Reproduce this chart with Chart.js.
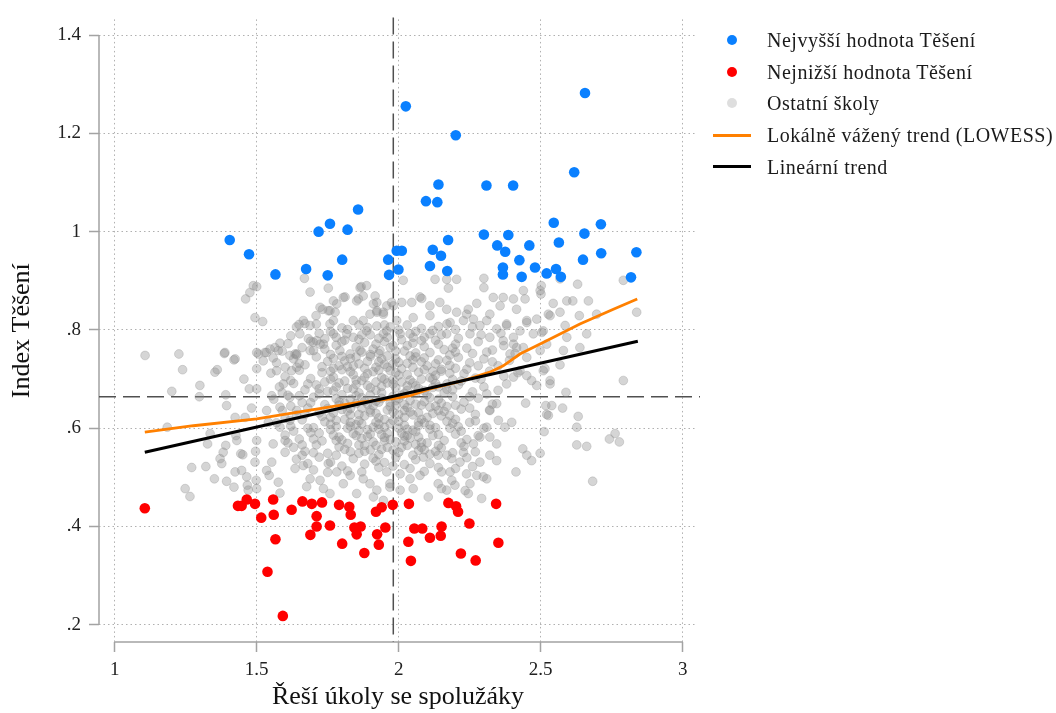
<!DOCTYPE html>
<html>
<head>
<meta charset="utf-8">
<script src="https://cdn.jsdelivr.net/npm/chart.js@4.4.1/dist/chart.umd.min.js"></script>
<style>
  html, body { margin: 0; padding: 0; background: #ffffff; }
  #wrap { position: relative; width: 1056px; height: 713px; overflow: hidden; }
  #chart { position: absolute; left: 0; top: 0; }
  .lg { position: absolute; left: 767px; height: 32px; line-height: 32px; font-family: "Liberation Serif", "Times New Roman", serif; font-size: 20px; letter-spacing: 0.5px; color: #1a1a1a; white-space: nowrap; }
  .dot { position: absolute; width: 10px; height: 10px; border-radius: 50%; }
  .ln { position: absolute; left: 713px; width: 38px; }
</style>
</head>
<body>
<div id="wrap">
  <canvas id="chart" width="1056" height="713"></canvas>
  <div class="dot" style="left:727px;top:35px;background:#0a80ff"></div>
  <div class="lg" style="top:24px">Nejvyšší hodnota Těšení</div>
  <div class="dot" style="left:727px;top:67px;background:#ff0000"></div>
  <div class="lg" style="top:56px">Nejnižší hodnota Těšení</div>
  <div class="dot" style="left:727px;top:98px;background:#dedede"></div>
  <div class="lg" style="top:87px">Ostatní školy</div>
  <div class="ln" style="top:134px;height:3px;background:#ff8000"></div>
  <div class="lg" style="top:119px">Lokálně vážený trend (LOWESS)</div>
  <div class="ln" style="top:165px;height:3px;background:#000000"></div>
  <div class="lg" style="top:151px">Lineární trend</div>
</div>
<script>
// ---- data ----
const xTickValues = [1, 1.5, 2, 2.5, 3];
const xTickLabels = ['1', '1.5', '2', '2.5', '3'];
const yTickValues = [0.2, 0.4, 0.6, 0.8, 1.0, 1.2, 1.4];
const yTickLabels = ['.2', '.4', '.6', '.8', '1', '1.2', '1.4'];

const meanX = 1.981;   // vertical dashed reference
const meanY = 0.664;   // horizontal dashed reference

const highest = [
  [1.405,0.983],[1.473,0.954],[1.566,0.913],[1.674,0.924],[1.718,1.000],[1.758,1.016],[1.750,0.911],
  [1.801,0.943],[1.820,1.004],[1.857,1.045],[1.963,0.943],[1.993,0.961],[2.011,0.961],[1.966,0.912],
  [1.999,0.923],[2.025,1.255],[2.201,1.196],[2.140,1.096],[2.096,1.062],[2.136,1.060],[2.309,1.094],
  [2.403,1.094],[2.618,1.121],[2.656,1.282],[2.174,0.983],[2.120,0.963],[2.149,0.951],[2.110,0.930],
  [2.171,0.920],[2.300,0.994],[2.347,0.972],[2.386,0.993],[2.375,0.959],[2.367,0.927],[2.367,0.913],
  [2.425,0.942],[2.433,0.908],[2.460,0.972],[2.480,0.927],[2.521,0.915],[2.554,0.924],[2.571,0.908],
  [2.546,1.018],[2.564,0.978],[2.654,0.996],[2.649,0.943],[2.712,1.015],[2.713,0.956],[2.837,0.958],
  [2.818,0.907]
];

const lowest = [
  [1.106,0.437],[1.434,0.442],[1.447,0.442],[1.465,0.455],[1.494,0.446],[1.516,0.418],[1.558,0.455],
  [1.560,0.424],[1.566,0.374],[1.538,0.308],[1.592,0.218],[1.623,0.434],[1.661,0.451],[1.694,0.446],
  [1.730,0.449],[1.711,0.421],[1.711,0.400],[1.689,0.383],[1.758,0.402],[1.790,0.444],[1.826,0.440],
  [1.831,0.424],[1.844,0.398],[1.866,0.400],[1.852,0.384],[1.801,0.365],[1.879,0.346],[1.920,0.430],
  [1.940,0.439],[1.979,0.444],[1.924,0.384],[1.953,0.398],[1.930,0.363],[2.036,0.446],[2.055,0.396],
  [2.083,0.396],[2.034,0.369],[2.043,0.330],[2.110,0.377],[2.148,0.381],[2.151,0.400],[2.175,0.448],
  [2.202,0.441],[2.209,0.430],[2.249,0.406],[2.219,0.345],[2.271,0.331],[2.343,0.446],[2.351,0.367]
];

const otherSchools = [
  // sparse left part
  [1.107,0.748],[1.226,0.751],[1.239,0.719],[1.201,0.675],[1.185,0.602],[1.300,0.687],[1.298,0.664],
  [1.353,0.714],[1.361,0.719],[1.386,0.752],[1.420,0.739],[1.391,0.668],[1.394,0.646],[1.455,0.700],
  [1.474,0.680],[1.482,0.641],[1.424,0.622],[1.459,0.622],[1.500,0.721],[1.500,0.754],[1.461,0.863],
  [1.476,0.876],[1.488,0.890],[1.500,0.888],[1.494,0.825],[1.521,0.817],[1.529,0.754],[1.547,0.761],
  [1.564,0.764],[1.523,0.737],[1.558,0.743],[1.582,0.773],[1.500,0.680],[1.553,0.666],[1.336,0.589],
  [1.327,0.568],[1.427,0.585],[1.430,0.575],[1.391,0.565],[1.382,0.551],[1.371,0.538],[1.377,0.528],
  [1.271,0.520],[1.321,0.522],[1.248,0.477],[1.265,0.461],[1.351,0.497],[1.394,0.492],[1.420,0.480],
  [1.424,0.511],[1.447,0.514],[1.444,0.548],[1.451,0.546],[1.465,0.501],[1.467,0.484],[1.470,0.474],
  [1.496,0.553],[1.500,0.575],[1.494,0.531],[1.498,0.494],[1.500,0.477],[1.535,0.514],[1.544,0.504],
  [1.558,0.568],[1.553,0.531],[1.576,0.490],[1.582,0.468],[1.600,0.575],[1.600,0.551],[1.388,0.754],
  [1.424,0.741],[1.506,0.751],[1.535,0.754],[1.576,0.758],[1.617,0.748],[1.635,0.751],
  [1.570,0.717],[1.594,0.690],[1.582,0.643],[1.535,0.636],[1.541,0.612],[1.582,0.602],[1.617,0.616],
  [1.641,0.636],[1.617,0.663],[1.623,0.717],[1.641,0.724],[1.641,0.751],[1.688,0.758],[1.711,0.778],
  [1.735,0.771],[1.664,0.819],[1.688,0.809],[1.723,0.846],[1.758,0.839],[1.782,0.853],[1.805,0.866],
  // upper band
  [1.668,0.905],[1.688,0.877],[1.752,0.885],[1.811,0.867],[1.770,0.859],[1.858,0.863],[1.868,0.888],
  [1.917,0.869],[1.923,0.856],[1.958,0.849],[1.975,0.856],[1.709,0.829],[1.732,0.842],[1.752,0.839],
  [1.776,0.836],[1.649,0.811],[1.670,0.813],[1.758,0.812],[1.770,0.819],[1.652,0.792],[1.682,0.782],
  [1.699,0.775],[1.723,0.771],[1.770,0.792],[1.817,0.792],[1.840,0.819],[1.875,0.819],[1.887,0.798],
  [1.923,0.808],[1.946,0.792],[1.899,0.832],[1.923,0.836],[1.946,0.832],[1.829,0.751],[1.793,0.758],
  [1.864,0.758],[1.934,0.758],[1.852,0.859],[1.875,0.869],[1.911,0.853],[1.923,0.839],[1.946,0.836],
  [1.864,0.886],[1.887,0.890],
  // upper right
  [2.016,0.901],[2.128,0.903],[2.169,0.903],[2.175,0.885],[2.204,0.903],[2.300,0.905],[2.300,0.886],
  [2.081,0.864],[2.439,0.880],[2.501,0.873],[2.498,0.880],[2.502,0.890],[2.630,0.893],[2.568,0.904],
  [2.791,0.901],[2.838,0.836],[2.544,0.854],[2.592,0.859],[2.613,0.859],[2.668,0.859],[2.636,0.829],
  [2.697,0.832],[2.662,0.792],[2.586,0.809],[2.533,0.829],[2.486,0.822],[2.504,0.795],[2.527,0.832],
  [2.568,0.836],[2.275,0.854],[2.333,0.866],[2.368,0.866],[2.404,0.863],[2.445,0.863],[2.321,0.832],
  [2.357,0.849],[2.415,0.842],[2.075,0.867],[2.046,0.856],[2.011,0.856],[1.981,0.849],[2.110,0.849],
  [2.145,0.856],[2.169,0.842],[2.204,0.836],[2.239,0.832],[2.245,0.842],[1.993,0.819],[2.051,0.825],
  [2.110,0.829],[2.181,0.815],[2.228,0.819],[2.263,0.822],[2.286,0.809],[2.310,0.819],[2.345,0.802],
  [2.380,0.809],[2.427,0.798],[2.451,0.815],[2.474,0.792],[2.509,0.798],[2.321,0.785],[2.368,0.778],
  [2.404,0.771],[2.251,0.792],[2.169,0.792],[2.110,0.792],[2.051,0.785],[2.005,0.792],[1.958,0.798],
  [2.439,0.764],[2.498,0.758],[2.451,0.744],[2.521,0.771],[2.592,0.785],[2.638,0.764],[2.580,0.758],
  [2.392,0.751],[2.415,0.764],[2.404,0.785],[2.380,0.812],[2.451,0.819],
  // right side sparse
  [2.791,0.697],[2.762,0.589],[2.777,0.572],[2.742,0.578],[2.683,0.492],[2.662,0.563],[2.627,0.566],
  [2.632,0.624],[2.627,0.602],[2.577,0.641],[2.539,0.646],[2.521,0.628],[2.589,0.673],[2.568,0.729],
  [2.533,0.697],[2.509,0.717],[2.515,0.721],[2.447,0.651],[2.512,0.593],[2.498,0.549],[2.437,0.558],
  [2.451,0.545],[2.468,0.534],[2.413,0.511],[2.451,0.707],[2.468,0.697],[2.486,0.687],[2.533,0.690],
  [2.518,0.646],[2.527,0.626],[2.321,0.636],[2.351,0.616],[2.374,0.602],[2.398,0.612],[2.345,0.650],
  [2.310,0.602],[2.286,0.582],[2.263,0.568],[2.321,0.582],[2.345,0.568],[2.380,0.690],[2.404,0.704],
  [2.427,0.717],
  // lower band
  [2.345,0.534],[2.321,0.545],[2.286,0.531],[2.298,0.501],[2.310,0.497],[2.275,0.504],[2.239,0.507],
  [2.251,0.487],[2.234,0.473],[2.245,0.467],[2.292,0.457],[2.187,0.494],[2.198,0.484],[2.169,0.474],
  [2.151,0.477],[2.139,0.487],[2.104,0.460],[2.075,0.504],[2.051,0.477],[2.040,0.497],[2.005,0.474],
  [1.969,0.480],[2.110,0.528],[2.139,0.545],[2.087,0.541],[2.187,0.538],[2.216,0.531],[2.228,0.551],
  [2.151,0.511],[2.181,0.511],[1.635,0.518],[1.664,0.524],[1.688,0.497],[1.723,0.494],[1.752,0.528],
  [1.782,0.511],[1.805,0.487],[1.829,0.504],[1.875,0.497],[1.899,0.487],[1.923,0.474],[1.958,0.511],
  [1.969,0.487],[2.005,0.507],[1.676,0.481],[1.735,0.477],[1.758,0.467],[1.852,0.467],[1.911,0.460],
  [1.946,0.453],
  // dense core
  [1.61,0.772],[1.66,0.764],[1.69,0.777],[1.74,0.761],[1.78,0.769],[1.81,0.779],[1.85,0.765],[1.88,0.774],
  [1.91,0.761],[1.95,0.776],[1.98,0.768],[2.02,0.757],[2.05,0.773],[2.09,0.766],[2.13,0.779],[2.16,0.760],
  [2.20,0.771],[2.24,0.763],[2.28,0.776],[2.33,0.759],[2.37,0.768],[2.41,0.752],
  [1.57,0.733],[1.63,0.741],[1.67,0.729],[1.71,0.745],[1.75,0.736],[1.79,0.727],[1.83,0.742],[1.86,0.731],
  [1.90,0.746],[1.93,0.735],[1.96,0.724],[1.99,0.741],[2.03,0.732],[2.06,0.745],[2.10,0.727],[2.14,0.739],
  [2.18,0.728],[2.21,0.744],[2.25,0.733],[2.30,0.741],[2.35,0.727],[2.39,0.738],
  [1.55,0.712],[1.60,0.705],[1.65,0.718],[1.69,0.701],[1.73,0.713],[1.77,0.704],[1.80,0.719],[1.84,0.709],
  [1.87,0.697],[1.91,0.715],[1.94,0.703],[1.97,0.717],[2.00,0.708],[2.04,0.698],[2.07,0.714],[2.11,0.703],
  [2.15,0.716],[2.19,0.699],[2.23,0.711],[2.27,0.702],[2.32,0.716],[2.37,0.706],[2.42,0.713],
  [1.58,0.684],[1.63,0.691],[1.67,0.678],[1.71,0.688],[1.75,0.675],[1.79,0.692],[1.82,0.681],[1.86,0.672],
  [1.89,0.687],[1.92,0.677],[1.96,0.692],[1.99,0.682],[2.02,0.671],[2.06,0.686],[2.09,0.676],[2.13,0.691],
  [2.17,0.679],[2.21,0.688],[2.26,0.674],[2.30,0.684],[2.35,0.677],
  [1.56,0.659],[1.61,0.667],[1.66,0.652],[1.70,0.663],[1.74,0.648],[1.78,0.660],[1.81,0.651],[1.85,0.666],
  [1.88,0.655],[1.91,0.646],[1.94,0.661],[1.97,0.652],[2.01,0.667],[2.04,0.656],[2.08,0.647],[2.11,0.662],
  [2.15,0.651],[2.19,0.664],[2.23,0.653],[2.28,0.661],[2.33,0.649],
  [1.59,0.636],[1.64,0.627],[1.68,0.641],[1.72,0.631],[1.76,0.622],[1.80,0.638],[1.83,0.627],[1.87,0.641],
  [1.90,0.632],[1.93,0.621],[1.96,0.637],[2.00,0.628],[2.03,0.642],[2.07,0.631],[2.10,0.622],[2.14,0.636],
  [2.18,0.626],[2.22,0.639],[2.27,0.628],[2.32,0.637],
  [1.57,0.611],[1.62,0.604],[1.66,0.617],[1.70,0.601],[1.74,0.613],[1.78,0.603],[1.81,0.618],[1.85,0.607],
  [1.89,0.597],[1.92,0.612],[1.95,0.602],[1.98,0.616],[2.02,0.606],[2.05,0.596],[2.09,0.611],[2.13,0.601],
  [2.17,0.614],[2.21,0.603],[2.25,0.612],[2.30,0.600],
  [1.60,0.586],[1.65,0.578],[1.69,0.591],[1.73,0.574],[1.77,0.586],[1.80,0.576],[1.84,0.589],[1.87,0.579],
  [1.91,0.572],[1.94,0.587],[1.97,0.577],[2.01,0.590],[2.04,0.580],[2.08,0.571],[2.12,0.585],[2.16,0.575],
  [2.20,0.588],[2.24,0.577],[2.28,0.585],
  [1.63,0.561],[1.67,0.553],[1.71,0.566],[1.75,0.549],[1.79,0.562],[1.83,0.552],[1.86,0.566],[1.90,0.556],
  [1.93,0.546],[1.96,0.561],[2.00,0.551],[2.03,0.565],[2.07,0.555],[2.11,0.547],[2.15,0.560],[2.19,0.550],
  [2.23,0.563],[2.27,0.552],
  [1.64,0.537],[1.68,0.528],[1.72,0.541],[1.76,0.531],[1.80,0.523],[1.84,0.538],[1.88,0.527],[1.91,0.539],
  [1.95,0.530],[1.99,0.541],[2.02,0.526],[2.06,0.536],
  // extra density in the centre
  [1.84,0.785],[1.90,0.790],[1.96,0.785],[2.01,0.780],[1.87,0.755],[1.93,0.752],[1.99,0.757],[2.06,0.753],
  [1.82,0.725],[1.88,0.722],[1.95,0.730],[2.01,0.721],[2.08,0.735],[1.85,0.698],[1.92,0.694],[1.98,0.699],
  [2.05,0.692],[2.12,0.700],[1.80,0.668],[1.87,0.662],[1.94,0.672],[2.00,0.660],[2.06,0.670],[1.83,0.640],
  [1.90,0.637],[1.97,0.644],[2.04,0.633],[2.11,0.643],[1.86,0.615],[1.93,0.608],[2.00,0.614],[2.07,0.605],
  [1.89,0.583],[1.96,0.590],[2.03,0.585],[1.92,0.565],[1.99,0.572],[1.76,0.700],[1.73,0.725],[1.72,0.680],
  [2.15,0.720],[2.17,0.690],[2.20,0.755],[2.24,0.720],
  // second core layer
  [1.64,0.806],[1.71,0.812],[1.80,0.804],[1.86,0.810],[1.97,0.806],[2.03,0.810],[2.08,0.803],[2.14,0.807],
  [2.20,0.801],[2.26,0.806],
  [1.62,0.788],[1.72,0.793],[1.78,0.785],[1.87,0.790],[1.93,0.783],[2.04,0.792],[2.09,0.785],[2.15,0.790],
  [2.21,0.783],[2.29,0.790],[2.36,0.793],
  [1.59,0.757],[1.64,0.749],[1.70,0.758],[1.76,0.750],[1.80,0.746],[1.90,0.750],[1.96,0.747],[2.04,0.747],
  [2.11,0.754],[2.18,0.749],[2.26,0.752],[2.31,0.755],
  [1.60,0.724],[1.65,0.732],[1.77,0.722],[1.84,0.727],[1.92,0.724],[1.98,0.731],[2.05,0.724],[2.12,0.716],
  [2.20,0.722],[2.28,0.727],[2.33,0.735],
  [1.62,0.697],[1.68,0.690],[1.74,0.694],[1.81,0.696],[1.88,0.704],[1.95,0.700],[2.01,0.694],[2.08,0.700],
  [2.14,0.684],[2.22,0.696],[2.29,0.700],
  [1.59,0.672],[1.65,0.666],[1.72,0.670],[1.77,0.676],[1.84,0.680],[1.90,0.668],[1.98,0.665],[2.03,0.677],
  [2.10,0.668],[2.16,0.672],[2.25,0.664],[2.31,0.670],
  [1.62,0.645],[1.69,0.652],[1.75,0.640],[1.79,0.647],[1.85,0.650],[1.92,0.655],[1.99,0.646],[2.06,0.649],
  [2.13,0.645],[2.20,0.647],[2.25,0.641],
  [1.60,0.620],[1.67,0.628],[1.73,0.624],[1.78,0.616],[1.83,0.612],[1.88,0.625],[1.95,0.618],[2.02,0.622],
  [2.08,0.618],[2.15,0.625],[2.20,0.618],[2.27,0.615],
  [1.63,0.594],[1.68,0.600],[1.72,0.590],[1.76,0.597],[1.82,0.600],[1.86,0.595],[1.93,0.598],[2.00,0.600],
  [2.06,0.593],[2.11,0.598],[2.18,0.600],[2.22,0.594],
  [1.61,0.570],[1.66,0.566],[1.70,0.578],[1.78,0.575],[1.82,0.569],[1.88,0.565],[1.95,0.574],[2.02,0.574],
  [2.06,0.567],[2.10,0.570],[2.14,0.565],[2.22,0.570],
  [1.66,0.545],[1.70,0.550],[1.78,0.545],[1.86,0.549],[1.92,0.533],[1.98,0.555],[2.05,0.545],[2.09,0.556],
  [2.17,0.545],[2.24,0.540],
  [1.70,0.515],[1.75,0.510],[1.82,0.513],[1.87,0.511],[1.93,0.520],[1.98,0.523],[2.04,0.518],[2.09,0.512],
  [2.14,0.520],[2.20,0.518],[2.26,0.522],
  // third core layer
  [1.76,0.797],[1.82,0.801],[1.89,0.805],[1.95,0.810],[2.00,0.800],[2.06,0.797],[2.12,0.799],[2.17,0.812],
  [1.74,0.782],[1.80,0.776],[1.86,0.781],[1.92,0.771],[1.97,0.764],[2.03,0.768],[2.08,0.778],[2.14,0.771],
  [2.19,0.763],
  [1.77,0.742],[1.81,0.737],[1.85,0.745],[1.89,0.736],[1.94,0.741],[2.00,0.734],[2.05,0.739],[2.09,0.743],
  [2.13,0.731],[2.17,0.738],
  [1.76,0.716],[1.83,0.715],[1.89,0.711],[1.93,0.718],[1.99,0.713],[2.03,0.709],[2.09,0.719],[2.13,0.708],
  [2.18,0.712],
  [1.78,0.684],[1.85,0.689],[1.90,0.682],[1.94,0.685],[1.98,0.690],[2.03,0.686],[2.07,0.681],[2.12,0.683],
  [2.19,0.678],
  [1.79,0.654],[1.83,0.659],[1.89,0.649],[1.93,0.653],[1.99,0.656],[2.02,0.648],[2.09,0.654],[2.14,0.659],
  [2.17,0.644],
  [1.77,0.631],[1.82,0.635],[1.86,0.628],[1.92,0.630],[1.98,0.633],[2.02,0.636],[2.05,0.627],[2.12,0.630],
  [2.16,0.634],
  [1.76,0.608],[1.83,0.604],[1.87,0.609],[1.91,0.602],[1.97,0.609],[2.03,0.598],[2.07,0.612],[2.11,0.606],
  [2.19,0.610],
  [1.79,0.582],[1.85,0.585],[1.90,0.588],[1.95,0.581],[2.02,0.584],[2.07,0.582],[2.14,0.587],
  [1.81,0.557],[1.88,0.553],[1.94,0.557],[2.01,0.561],[2.08,0.561],[2.13,0.553]
];

const lowessX = [1.106,1.277,1.500,1.688,1.864,1.981,2.040,2.110,2.227,2.321,2.368,2.427,2.521,2.638,2.756,2.840];
const lowessY = [0.592,0.605,0.619,0.637,0.653,0.660,0.666,0.680,0.697,0.714,0.727,0.751,0.778,0.812,0.842,0.863];
const linearX = [1.106, 2.842];
const linearY = [0.551, 0.777];

// ---- chart ----
const toPts = arr => arr.map(p => ({ x: p[0], y: p[1] }));
const zip = (xs, ys) => xs.map((v, i) => ({ x: v, y: ys[i] }));

const serif = '"Liberation Serif", "Times New Roman", serif';

const refLines = {
  id: 'refLines',
  beforeDatasetsDraw(chart) {
    const { ctx, chartArea: a, scales: { x, y } } = chart;
    ctx.save();
    // axis lines spanning the tick range only
    ctx.strokeStyle = '#a3a3a3';
    ctx.lineWidth = 1.5;
    ctx.setLineDash([]);
    ctx.beginPath();
    ctx.moveTo(a.left, y.getPixelForValue(yTickValues[0]));
    ctx.lineTo(a.left, y.getPixelForValue(yTickValues[yTickValues.length - 1]));
    ctx.moveTo(x.getPixelForValue(xTickValues[0]), a.bottom);
    ctx.lineTo(x.getPixelForValue(xTickValues[xTickValues.length - 1]), a.bottom);
    ctx.stroke();
    // mean reference lines
    ctx.strokeStyle = '#505050';
    ctx.lineWidth = 1.5;
    ctx.setLineDash([17, 7]);
    const ry = y.getPixelForValue(meanY);
    ctx.beginPath();
    ctx.moveTo(a.left, ry);
    ctx.lineTo(a.right + 3, ry);
    ctx.stroke();
    const rx = x.getPixelForValue(meanX);
    ctx.beginPath();
    ctx.moveTo(rx, a.top - 2);
    ctx.lineTo(rx, a.bottom);
    ctx.stroke();
    ctx.restore();
  }
};

const gridOpts = {
  color: '#b0b0b0', lineWidth: 1,
  tickColor: '#a3a3a3', tickWidth: 1.5, tickLength: 10, tickBorderDash: []
};
const borderOpts = { display: false, dash: [1.5, 3] };

new Chart(document.getElementById('chart'), {
  type: 'scatter',
  data: {
    datasets: [
      {
        label: 'Lineární trend',
        data: zip(linearX, linearY),
        showLine: true, borderColor: '#000000', borderWidth: 3,
        pointRadius: 0, order: 1
      },
      {
        label: 'Lokálně vážený trend (LOWESS)',
        data: zip(lowessX, lowessY),
        showLine: true, borderColor: '#ff8000', borderWidth: 2.8, tension: 0,
        pointRadius: 0, order: 2
      },
      {
        label: 'Nejvyšší hodnota Těšení',
        data: toPts(highest),
        backgroundColor: '#0a80ff', borderWidth: 0, pointRadius: 5.3, order: 3
      },
      {
        label: 'Nejnižší hodnota Těšení',
        data: toPts(lowest),
        backgroundColor: '#ff0000', borderWidth: 0, pointRadius: 5.3, order: 4
      },
      {
        label: 'Ostatní školy',
        data: toPts(otherSchools),
        backgroundColor: 'rgba(140,140,140,0.37)', borderColor: 'rgba(140,140,140,0.3)',
        borderWidth: 1, pointRadius: 4.4, order: 5
      }
    ]
  },
  options: {
    responsive: false,
    animation: false,
    layout: { padding: { left: 0, right: 359, top: 18, bottom: 0 } },
    plugins: { legend: { display: false }, tooltip: { enabled: false } },
    scales: {
      x: {
        type: 'linear',
        min: 0.9447, max: 3.0504,
        afterFit: s => { s.height = 71; },
        afterBuildTicks: s => { s.ticks = xTickValues.map(v => ({ value: v })); },
        border: borderOpts,
        grid: gridOpts,
        ticks: {
          autoSkip: false, maxRotation: 0, padding: 7, color: '#222',
          font: { family: serif, size: 19 },
          callback: (v, i) => xTickLabels[i]
        },
        title: {
          display: true, text: 'Řeší úkoly se spolužáky', color: '#111',
          font: { family: serif, size: 26 }, padding: { top: 0, bottom: 0 }
        }
      },
      y: {
        type: 'linear',
        min: 0.1649, max: 1.4319,
        afterFit: s => { s.width = 99; },
        afterBuildTicks: s => { s.ticks = yTickValues.map(v => ({ value: v })); },
        border: borderOpts,
        grid: gridOpts,
        ticks: {
          autoSkip: false, padding: 8, color: '#222',
          font: { family: serif, size: 19 },
          callback: (v, i) => yTickLabels[i]
        },
        title: {
          display: true, text: 'Index Těšení', color: '#111',
          font: { family: serif, size: 26 }, padding: { top: 7, bottom: 0 }
        }
      }
    }
  },
  plugins: [refLines]
});
</script>
</body>
</html>
